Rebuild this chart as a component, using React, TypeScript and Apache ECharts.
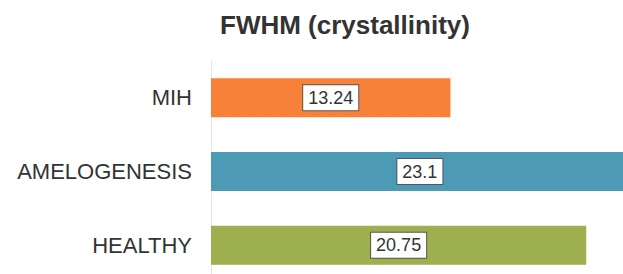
import React, { useEffect, useRef } from "react";
import * as echarts from "echarts";

const categories = ["MIH", "AMELOGENESIS", "HEALTHY"];
const values = [13.24, 23.1, 20.75];
const barColors = ["#F8813A", "#4C9AB6", "#9DAF4E"];
const titleText = "FWHM (crystallinity)";

export default function App() {
  const ref = useRef<HTMLDivElement>(null);
  useEffect(() => {
    if (!ref.current) return;
    const chart = echarts.init(ref.current, null, { renderer: "svg" });
    chart.setOption({
      animation: false,
      backgroundColor: "#ffffff",
      title: {
        text: titleText,
        left: 215,
        top: 7,
        textStyle: {
          fontFamily: "Liberation Sans, Arial, sans-serif",
          fontWeight: "bold",
          fontSize: 26,
          color: "#333333",
        },
      },
      grid: { left: 211, right: 0, top: 61, bottom: 0, containLabel: false },
      xAxis: {
        type: "value",
        min: 0,
        max: 24,
        show: false,
        splitLine: { show: false },
      },
      yAxis: {
        type: "category",
        data: categories,
        inverse: true,
        axisLine: { show: true, lineStyle: { color: "#e6e6e6", width: 1 } },
        axisTick: { show: false },
        axisLabel: {
          margin: 19,
          fontFamily: "Liberation Sans, Arial, sans-serif",
          fontSize: 22,
          color: "#333333",
        },
      },
      series: [
        {
          type: "bar",
          barWidth: 39,
          data: values.map((v, i) => ({ value: v, itemStyle: { color: barColors[i] } })),
          label: {
            show: true,
            position: "inside",
            fontFamily: "Liberation Sans, Arial, sans-serif",
            fontSize: 18,
            color: "#333333",
            backgroundColor: "#ffffff",
            borderColor: "#555555",
            borderWidth: 1,
            padding: [4, 5, 3, 5],
          },
        },
      ],
    });
    return () => chart.dispose();
  }, []);
  return (
    <div
      style={{
        position: "absolute",
        left: 0,
        top: 0,
        width: 623,
        height: 274,
        overflow: "hidden",
      }}
    >
      <div ref={ref} style={{ width: 645, height: 282 }} />
    </div>
  );
}
